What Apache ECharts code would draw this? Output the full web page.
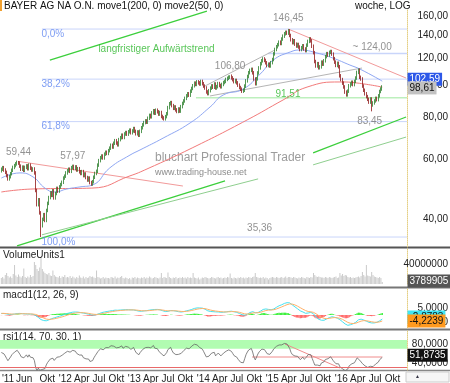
<!DOCTYPE html>
<html>
<head>
<meta charset="utf-8">
<script src="https://cdn.jsdelivr.net/npm/echarts@6/dist/echarts.min.js"></script>
<style>
html,body{margin:0;padding:0;background:#fff}
#chart{width:450px;height:383px}
</style>
</head>
<body>
<div id="chart"></div>
<script>
// weekly closes, first week = firstWeek, one value per week
var firstWeek = '2011-01-31'
var xStart = '2011-01-24'
var xEnd = '2016-12-17'

// only used to start the indicators, lies before the visible range
var preCloses = [50.2, 50.8, 49.6, 48.9, 49.7, 51.2, 52.0, 51.4, 52.8, 53.6, 52.9, 53.8, 54.9,
    55.6, 56.3, 55.1, 54.2, 55.4, 56.6, 55.8, 56.4, 55.9, 54.8, 53.9, 54.7, 55.6]

var closes = [
    56.2, 56.8, 55.9, 55.0, 53.8, 52.6, 53.4, 54.5, 55.8, 56.9, 57.6, 58.3, 58.9,
    58.6, 57.4, 56.2, 57.0, 55.8, 56.9, 57.5, 56.4, 57.8, 56.6, 55.9, 56.3,
    54.8, 48.6, 44.1, 45.6, 41.7, 38.2, 39.9, 41.2, 39.6, 42.4,
    44.5, 46.3, 47.8, 47.0, 48.5, 46.2, 47.6, 49.3, 48.4, 49.8, 50.6, 51.4, 52.9, 53.6, 54.8,
    55.6, 56.2, 55.4, 56.8, 57.3, 56.5, 57.1, 55.9, 56.4, 55.2, 54.6, 55.3, 53.8, 54.4, 53.1, 52.2, 52.9, 51.3, 50.8,
    51.6, 53.2, 54.6, 55.4, 57.8, 59.6, 60.8, 61.5, 60.7, 62.3, 63.1, 62.6,
    63.8, 64.9, 66.2, 65.4, 67.1, 68.3, 67.2, 66.4, 68.8, 69.7, 70.9, 69.8, 71.5, 72.2, 71.4,
    72.6, 73.4, 72.1, 73.0, 74.2, 72.8, 71.6, 72.5, 70.9, 72.8,
    74.6, 76.1, 77.3, 78.2, 77.5, 79.6, 81.2, 80.4, 82.6, 83.8, 82.4, 84.1, 83.2, 81.9, 82.8, 80.6, 79.8, 79.3,
    80.5, 82.1, 85.6, 87.9, 88.6, 86.8, 85.2, 86.0, 84.3, 83.4, 84.8, 83.6, 86.2, 88.1,
    89.6, 91.2, 92.8, 94.1, 93.2, 95.8, 97.6, 99.4, 101.2, 100.3, 102.1, 101.4, 100.6,
    102.4, 100.8, 99.2, 97.9, 95.3, 94.2, 96.1,
    97.8, 99.3, 98.4, 100.6, 97.9, 98.8, 100.9, 99.6, 98.7, 100.3, 101.6, 102.4,
    103.8, 104.6, 105.4, 106.1, 104.9, 103.6, 102.2,
    103.1, 101.4, 99.8, 98.2, 97.1, 95.8, 96.4, 99.2,
    102.8, 105.9, 108.7, 110.4, 111.2, 108.6, 104.1, 100.8,
    104.2, 108.5, 112.3, 115.6, 117.9, 119.4, 118.2, 116.3, 114.1, 115.2, 113.8, 116.4, 118.9,
    123.6, 127.4, 129.8, 131.6, 133.9, 132.7, 136.8, 139.5, 141.8, 143.2, 142.4, 144.6,
    140.2, 136.1, 133.4, 135.2, 132.1, 130.4, 131.8, 129.5, 127.3, 128.9, 130.6, 127.8, 126.4, 131.2,
    134.6, 136.9, 135.1, 130.2, 124.6, 117.3, 113.8, 115.6,
    112.4, 113.1, 116.8, 115.2, 117.9, 121.3, 123.8, 122.6, 124.9, 125.6, 123.4,
    119.6, 116.8, 114.2, 115.9, 113.2, 106.4, 103.7, 101.2,
    98.6, 95.2, 93.4, 95.8, 99.4, 100.6, 101.8, 100.2, 102.4,
    104.8, 108.9, 110.6, 105.3, 104.1, 99.2, 96.4, 94.1,
    92.3, 90.6, 88.9, 90.8, 87.2,
    88.4, 89.6, 91.2, 90.4, 92.8, 95.6, 97.2, 98.61
]

// weekly volume in millions
var volumes = [
    12, 14, 11, 18, 22, 16, 13, 15, 12, 20, 38, 17, 14,
    19, 15, 13, 16, 31, 14, 12, 15, 13, 18, 14, 16,
    44, 38, 30, 26, 33, 52, 30, 25, 22, 20,
    19, 22, 17, 16, 27, 18, 15, 14, 13, 16, 12, 15, 14, 18, 13,
    14, 13, 16, 12, 15, 13, 11, 14, 12, 17, 13, 12, 15, 11, 14, 12, 13, 16, 14,
    15, 13, 12, 27, 14, 13, 11, 12, 14, 11, 13, 12,
    12, 11, 14, 13, 12, 15, 11, 13, 12, 14, 16, 12, 11, 13, 12,
    10, 12, 9, 13, 12, 14, 11, 13, 12, 11,
    13, 12, 14, 11, 13, 12, 15, 13, 11, 12, 14, 13, 12, 11, 13, 22, 12, 14,
    13, 12, 23, 14, 12, 11, 13, 12, 14, 11, 12, 13, 12, 14,
    12, 13, 11, 14, 12, 13, 12, 22, 13, 12, 11, 13, 9,
    11, 13, 12, 14, 13, 12, 11,
    12, 14, 13, 12, 11, 13, 14, 12, 13, 11, 12, 13,
    12, 14, 13, 21, 12, 11, 13,
    12, 11, 13, 12, 14, 12, 13, 11,
    13, 12, 14, 13, 12, 14, 15, 22,
    14, 13, 12, 13, 12, 14, 11, 13, 12, 9, 12, 13, 14,
    13, 12, 14, 13, 12, 13, 14, 12, 13, 15, 12, 14,
    14, 13, 12, 14, 13, 12, 11, 13, 12, 14, 13, 12, 11, 14,
    13, 12, 14, 13, 22, 18, 15, 14,
    15, 14, 13, 13, 12, 14, 13, 12, 14, 13, 12,
    13, 14, 15, 12, 13, 22, 17, 20,
    16, 18, 17, 14, 13, 14, 12, 13, 12,
    13, 14, 15, 13, 16, 24, 18, 15,
    38, 17, 16, 15, 24,
    18, 15, 14, 13, 12, 14, 12, 3.789905
]

// labelled extremes: week index, price, text
var peaks = [[13, 59.44, '59,44'], [54, 57.97, '57,97'], [173, 106.80, '106,80'], [217, 146.45, '146,45']]
var troughs = [[30, 35.36], [280, 83.45, '83,45']]

// moving averages
var ma200 = [['2011-01-31', 48.1], ['2011-07-18', 49.1], ['2012-05-24', 49.4], ['2012-12-12', 53.7],
    ['2013-03-12', 56.3], ['2013-11-06', 65.0], ['2014-08-24', 78.7], ['2015-03-02', 90.2],
    ['2015-07-07', 98.5], ['2015-12-28', 102.0], ['2016-03-27', 101.3], ['2016-08-08', 98.5]]
var ma50 = [['2011-01-31', 52.9], ['2011-05-10', 54.8], ['2011-07-18', 53.3], ['2011-09-19', 49.4],
    ['2011-11-10', 48.1], ['2012-01-13', 49.1], ['2012-03-22', 49.8], ['2012-05-29', 50.5],
    ['2012-08-27', 56.7], ['2012-12-12', 61.9], ['2013-02-03', 64.1], ['2013-06-05', 69.5],
    ['2013-10-26', 77.1], ['2014-02-09', 86.0], ['2014-04-19', 93.3], ['2014-08-03', 97.2],
    ['2014-11-01', 107.7], ['2015-01-09', 118.5], ['2015-04-09', 125.2], ['2015-05-31', 126.9],
    ['2015-08-29', 124.3], ['2015-11-21', 120.1], ['2016-02-19', 114.5], ['2016-04-12', 111.4],
    ['2016-08-08', 102.59]]

// Fibonacci retracement between the high and the low
var fibHigh = 146.45
var fibLow = 35.36
var fibRatios = [0, 0.382, 0.618, 1]
var fibNames = ['0,0%', '38,2%', '61,8%', '100,0%']
var fibFrom = '2011-09-03'
var resistance = ['2014-12-12', 124.00, '~ 124,00']
var support = ['2013-11-26', 91.51, '91,51']

var greenLines = [[['2011-10-15', 118.5], ['2014-01-23', 165.6]],
    [['2011-04-24', 33.3], ['2014-04-29', 51.9]],
    [['2015-08-08', 62.8], ['2016-12-12', 80.3]]]
var lightGreenLines = [[['2011-09-03', 35.9], ['2014-10-21', 52.6]],
    [['2015-08-08', 57.9], ['2016-12-12', 70.0]]]
var redLines = [[['2011-04-29', 59.3], ['2013-09-18', 50.1]],
    [['2015-03-30', 146.4], ['2016-12-12', 104.8]]]
var grayLines = [[['2014-01-02', 98.5], ['2015-01-18', 126.9]],
    [['2014-02-08', 92.7], ['2016-04-23', 112.2]]]
var rsiLines = [[['2014-09-19', 52.6], ['2016-08-08', 52.6]],
    [['2015-03-12', 80], ['2015-12-28', 29.5]]]

var priceTicks = [40, 60, 80, 100, 120, 140, 160]
var volumeTicks = [0, 40000000]
var macdTicks = [-5, 5]
var rsiTicks = [40, 80]
var lastMacdSignal = -4.2239
var lastRsi = 51.8735

var monthTicks = ['2011-06-01', '2011-10-01', '2012-04-01', '2012-07-01', '2012-10-01', '2013-04-01',
    '2013-07-01', '2013-10-01', '2014-04-01', '2014-07-01', '2014-10-01', '2015-04-01', '2015-07-01',
    '2015-10-01', '2016-04-01', '2016-07-01', '2016-10-01']
var monthNames = ['Jun', 'Okt', 'Apr', 'Jul', 'Okt', 'Apr', 'Jul', 'Okt', 'Apr', 'Jul', 'Okt',
    'Apr', 'Jul', 'Okt', 'Apr', 'Jul', 'Okt']
var yearTicks = ['2011-06-01', '2012-04-01', '2013-04-01', '2014-04-01', '2015-04-01', '2016-04-01']
var yearNames = ["'11", "'12", "'13", "'14", "'15", "'16"]

var FONT = 'Liberation Sans, Arial, sans-serif'
var DAY = 86400000

function ts(s){
    var p = s.split('-')
    return Date.UTC(+p[0], +p[1] - 1, +(p[2] || 1))
}
function weekTs(i){ return ts(firstWeek) + i * 7 * DAY }
function L(p){ return Math.log(p) }
function de(v, d){ return v.toFixed(d).replace('.', ',') }

var xMin = ts(xStart), xMax = ts(xEnd)

// candles
var candleData = []
for (let i = 0; i < closes.length; i++) {
    var o = i ? closes[i - 1] : preCloses[preCloses.length - 1]
    var c = closes[i]
    var hi = Math.max(o, c) * 1.012
    var lo = Math.min(o, c) * 0.988
    peaks.forEach(function(p){ if (p[0] == i) hi = p[1] })
    troughs.forEach(function(p){ if (p[0] == i) lo = p[1] })
    candleData.push([weekTs(i), L(o), L(c), L(lo), L(hi)])
}

// indicators
var allCloses = preCloses.concat(closes)
function ema(arr, n){
    var k = 2 / (n + 1), out = [], e = arr[0]
    for (let i = 0; i < arr.length; i++) {
        e = i ? arr[i] * k + e * (1 - k) : arr[i]
        out.push(e)
    }
    return out
}
var e12 = ema(allCloses, 12), e26 = ema(allCloses, 26)
var macdAll = e12.map(function(v, i){ return v - e26[i] })
var sigAll = ema(macdAll, 9)
var rsiAll = [null], gain = 0, loss = 0
for (let i = 1; i < allCloses.length; i++) {
    var d = allCloses[i] - allCloses[i - 1]
    var g = Math.max(d, 0), l = Math.max(-d, 0)
    if (i <= 14) { gain += g / 14; loss += l / 14 }
    else { gain = (gain * 13 + g) / 14; loss = (loss * 13 + l) / 14 }
    rsiAll.push(i >= 14 ? 100 - 100 / (1 + gain / loss) : null)
}
var off = preCloses.length
var macdData = [], sigData = [], histData = [], rsiData = [], volData = []
for (let i = 0; i < closes.length; i++) {
    var t = weekTs(i)
    var m = macdAll[off + i], s = sigAll[off + i]
    macdData.push([t, m])
    sigData.push([t, s])
    histData.push({value: [t, m - s], itemStyle: {color: m - s >= 0 ? '#3ef03e' : '#ff6b6b'}})
    rsiData.push([t, rsiAll[off + i]])
    volData.push([t, volumes[i] * 1e6])
}
var lastMacd = macdAll[macdAll.length - 1]

function lineSeries(pts, grid, color, width, log){
    return {
        type: 'line', xAxisIndex: grid, yAxisIndex: grid, silent: true, symbol: 'none',
        data: pts.map(function(p){ return [ts(p[0]), log ? L(p[1]) : p[1]] }),
        lineStyle: {color: color, width: width}, z: 3
    }
}
function boxPoint(x, y, text, bg, fg, offset, z){
    return {
        coord: [x, y],
        symbol: 'rect', symbolSize: 1, itemStyle: {color: 'rgba(0,0,0,0)'},
        label: {show: true, position: 'right', distance: 0, formatter: text, backgroundColor: bg,
            color: fg, padding: [2, 2, 1, 2], fontSize: 10, fontFamily: FONT, offset: offset || [0, 0]},
        z: z || 10
    }
}
function note(x, price, text, color, pos, dist, offset){
    return {
        value: [x, L(price)],
        label: {show: true, formatter: text, color: color, position: pos, distance: dist,
            offset: offset || [0, 0], fontSize: 10, fontFamily: FONT}
    }
}

var series = []

// Fibonacci and horizontal levels
fibRatios.forEach(function(r){
    var p = fibHigh - r * (fibHigh - fibLow)
    series.push(lineSeries([[fibFrom, p], [xEnd, p]], 0, '#c9d5fa', 1, true))
})
series.push(lineSeries([[resistance[0], resistance[1]], [xEnd, resistance[1]]], 0, '#c9d5fa', 1.5, true))
series.push(lineSeries([[support[0], support[1]], [xEnd, support[1]]], 0, '#bdf0bd', 1.5, true))

greenLines.forEach(function(pts){ series.push(lineSeries(pts, 0, '#3ccf3c', 1.3, true)) })
lightGreenLines.forEach(function(pts){ series.push(lineSeries(pts, 0, '#8fcf8f', 1, true)) })
redLines.forEach(function(pts){ series.push(lineSeries(pts, 0, '#f29a9a', 1, true)) })
grayLines.forEach(function(pts){ series.push(lineSeries(pts, 0, '#b5b5b5', 1, true)) })

var ma200Series = lineSeries(ma200, 0, '#f27a7a', 1, true)
ma200Series.smooth = true
series.push(ma200Series)
var ma50Series = lineSeries(ma50, 0, '#8fa7f3', 1, true)
ma50Series.smooth = true
ma50Series.markPoint = {data: [boxPoint(xMax, L(ma50[ma50.length - 1][1]), de(ma50[ma50.length - 1][1], 2), '#2d58e8', '#fff', [0, -2], 11)]}
series.push(ma50Series)

series.push({
    type: 'candlestick', xAxisIndex: 0, yAxisIndex: 0,
    data: candleData, encode: {x: 0, y: [1, 2, 3, 4]},
    barWidth: 1.2, silent: true, z: 5,
    itemStyle: {color: '#2e8f2e', color0: '#a81c1c', borderColor: '#2a7d2a', borderColor0: '#8e1616', borderWidth: 0.8},
    markPoint: {data: [boxPoint(xMax, L(closes[closes.length - 1]), de(closes[closes.length - 1], 2), '#c2c2c2', '#111', [0, 1], 12)]}
})

// texts on the price panel
var noteData = []
fibRatios.forEach(function(r, i){
    var p = fibHigh - r * (fibHigh - fibLow)
    noteData.push(note(ts(fibFrom), p, fibNames[i], '#5f86f0', 'right', 0, [-1, 5]))
})
peaks.forEach(function(p){
    noteData.push(note(weekTs(p[0]), p[1], p[2], '#777', 'top', p[0] == 217 ? 5 : 3))
})
troughs.forEach(function(p){
    if (p[2]) noteData.push(note(weekTs(p[0]), p[1], p[2], '#777', 'bottom', 4, [-2, 0]))
})
noteData.push(note(ts('2014-10-29'), fibLow, '35,36', '#777', 'top', 3))
noteData.push(note(ts('2016-03-01'), resistance[1], resistance[2], '#777', 'right', 0, [0, -6]))
noteData.push(note(ts('2015-01-18'), support[1], support[2], '#2eb82e', 'right', 0, [0, -4]))
noteData.push(note(ts('2012-06-25'), 127.8, 'langfristiger Aufwärtstrend', '#2eb82e', 'right', 0))
series.push({
    type: 'scatter', xAxisIndex: 0, yAxisIndex: 0, silent: true, z: 8,
    symbolSize: 1, itemStyle: {color: 'rgba(0,0,0,0)'}, data: noteData
})

// volume
series.push({
    type: 'bar', xAxisIndex: 1, yAxisIndex: 1, data: volData, barWidth: 1, silent: true,
    itemStyle: {color: '#cacaca'},
    markPoint: {data: [boxPoint(xMax, volumes[volumes.length - 1] * 1e6, String(Math.round(volumes[volumes.length - 1] * 1e6)), '#555', '#fff', [0, -1])]}
})

// macd, the macd box sits mostly hidden behind the signal box
series.push({type: 'bar', xAxisIndex: 2, yAxisIndex: 2, data: histData, barWidth: 1.4, silent: true})
series.push({
    type: 'line', xAxisIndex: 2, yAxisIndex: 2, data: macdData, symbol: 'none', silent: true,
    lineStyle: {color: '#45e2f0', width: 1},
    markPoint: {data: [boxPoint(xMax, lastMacdSignal, de(lastMacd, 4), '#3fe6f5', '#111', [0, -4], 10)]}
})
series.push({
    type: 'line', xAxisIndex: 2, yAxisIndex: 2, data: sigData, symbol: 'none', silent: true,
    lineStyle: {color: '#ffb26a', width: 1}, z: 4,
    markPoint: {data: [boxPoint(xMax, lastMacdSignal, de(lastMacdSignal, 4), '#ff9a1f', '#111', [0, 0], 12)]}
})

// rsi
series.push({
    type: 'line', xAxisIndex: 3, yAxisIndex: 3, data: rsiData, symbol: 'none', silent: true,
    lineStyle: {color: '#666', width: 0.8}, z: 4,
    markArea: {silent: true, itemStyle: {color: '#b1fcb1'}, data: [[{yAxis: 70}, {yAxis: 88.4}]]},
    markLine: {silent: true, symbol: 'none', label: {show: false}, lineStyle: {color: '#e86a6a', width: 1, type: 'solid'}, data: [{yAxis: 30}]},
    markPoint: {data: [boxPoint(xMax, lastRsi, de(lastRsi, 4), '#111', '#fff', [0, -2])]}
})
rsiLines.forEach(function(pts){ series.push(lineSeries(pts, 3, '#f08c8c', 1, false)) })

// axes
var grids = [
    {left: 0, top: 10, width: 407, height: 237},
    {left: 0, top: 249, width: 407, height: 35},
    {left: 0, top: 289, width: 407, height: 39},
    {left: 0, top: 331, width: 407, height: 39},
    {left: 0, top: 370, width: 407, height: 1}
].map(function(g){ return Object.assign({containLabel: false, outerBoundsMode: 'none'}, g) })

var xAxes = [0, 1, 2, 3].map(function(i){
    return {type: 'value', gridIndex: i, min: xMin, max: xMax, show: false}
})
var monthMap = {}, yearMap = {}
monthTicks.forEach(function(d, i){ monthMap[ts(d)] = monthNames[i] })
yearTicks.forEach(function(d, i){ yearMap[ts(d)] = yearNames[i] })
xAxes.push({
    type: 'value', gridIndex: 4, position: 'bottom', min: xMin, max: xMax,
    axisLine: {show: false}, axisTick: {show: false}, splitLine: {show: false},
    axisLabel: {customValues: monthTicks.map(ts), formatter: function(v){ return monthMap[v] || '' },
        fontSize: 10, color: '#222', margin: 3, fontFamily: FONT}
})
xAxes.push({
    type: 'value', gridIndex: 4, position: 'bottom', min: xMin, max: xMax,
    axisLine: {show: false}, axisTick: {show: false}, splitLine: {show: false},
    axisLabel: {customValues: yearTicks.map(ts), formatter: function(v){ return yearMap[v] || '' },
        align: 'right', padding: [0, 10, 0, 0], fontSize: 10, color: '#222', margin: 3, fontFamily: FONT}
})

function rightAxis(grid, min, max, ticks, fmt){
    return {
        type: 'value', gridIndex: grid, position: 'right', min: min, max: max,
        axisLine: {show: true, lineStyle: {color: '#e4cf84', type: 'dotted'}},
        axisTick: {show: false}, splitLine: {show: false},
        axisLabel: {customValues: ticks, formatter: fmt, align: 'right', margin: 41,
            fontSize: 10, color: '#222', fontFamily: FONT}
    }
}
var yAxes = [
    rightAxis(0, L(33.03), L(166.8), priceTicks.map(L), function(v){ return de(Math.exp(v), 2) }),
    rightAxis(1, 0, 70000000, volumeTicks, function(v){ return String(v) }),
    rightAxis(2, -9.29, 18.57, macdTicks, function(v){ return de(v, 4) }),
    rightAxis(3, 25.26, 107.37, rsiTicks, function(v){ return de(v, 4) }),
    {type: 'value', gridIndex: 4, min: 0, max: 1, show: false}
]

function text(x, y, s, size, color){
    return {type: 'text', left: x, top: y, silent: true,
        style: {text: s, fontSize: size, fill: color, fontFamily: FONT}}
}
function hline(y, w, color){
    return {type: 'line', silent: true, shape: {x1: 0, y1: y, x2: 450, y2: y}, style: {stroke: color, lineWidth: w}}
}

var option = {
    animation: false,
    backgroundColor: '#fff',
    textStyle: {fontFamily: FONT},
    grid: grids,
    xAxis: xAxes,
    yAxis: yAxes,
    series: series,
    graphic: [
        {type: 'rect', silent: true, shape: {x: 0, y: 0, width: 2, height: 11}, style: {fill: '#f0a030'}},
        text(4, 1, 'BAYER AG NA O.N. move1(200, 0) move2(50, 0)', 10, '#111'),
        text(355, 1, 'woche, LOG', 10, '#111'),
        text(155, 152, 'bluchart Professional Trader', 12, '#9c9c9c'),
        text(155, 168, 'www.trading-house.net', 9, '#8c8c8c'),
        hline(247.5, 2, '#555'),
        hline(287.5, 2, '#777'),
        hline(329.5, 2, '#777'),
        hline(370.5, 1.5, '#888'),
        text(3, 250, 'VolumeUnits1', 10, '#222'),
        text(3, 290, 'macd1(12, 26, 9)', 10, '#222'),
        text(3, 332, 'rsi1(14, 70, 30, 1)', 10, '#222'),
        {type: 'rect', silent: true, shape: {x: 406, y: 372, width: 43, height: 10}, style: {fill: '#f6f6f6', stroke: '#ccc', lineWidth: 1}},
        text(415, 374, '\u25B2', 5, '#334')
    ]
}

var myChart = echarts.init(document.getElementById('chart'))
myChart.setOption(option)
</script>
</body>
</html>
